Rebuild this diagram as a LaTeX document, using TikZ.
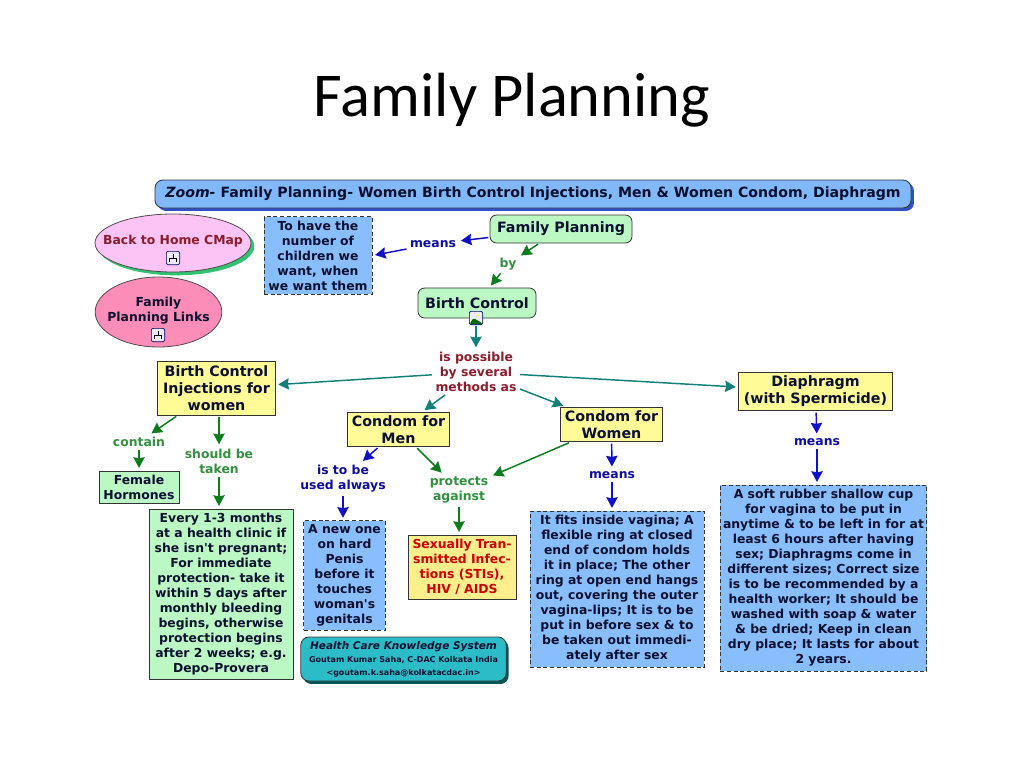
\documentclass[tikz,border=0pt]{standalone}
\usepackage{fontspec}
\setmainfont{DejaVu Sans}
\newfontfamily\titlefont{Carlito}
\usetikzlibrary{arrows.meta,shapes.geometric,shadows}
\definecolor{hdblue}{HTML}{80B8F8}
\definecolor{hdshadow}{HTML}{3050C8}
\definecolor{skyfill}{HTML}{88BEFC}
\definecolor{mintfill}{HTML}{BCF8C4}
\definecolor{lemonfill}{HTML}{FFFC98}
\definecolor{orangefill}{HTML}{FFEE8C}
\definecolor{pinkfill}{HTML}{FCC4F4}
\definecolor{rosefill}{HTML}{FC8CB8}
\definecolor{tealfill}{HTML}{2CBCC8}
\definecolor{tealline}{HTML}{108078}
\definecolor{greenline}{HTML}{0C7C1C}
\definecolor{blueline}{HTML}{1010C8}
\definecolor{darkred}{HTML}{8C1C2C}
\definecolor{navytext}{HTML}{0C1030}
\tikzset{
  txt/.style={font=\bfseries\fontsize{9.3}{11.25}\selectfont, align=center, text=navytext},
  bigtxt/.style={font=\bfseries\fontsize{10.7}{12.75}\selectfont},
  box/.style={txt, draw=black!80, line width=.6pt, inner sep=0pt},
  mint/.style={box, fill=mintfill},
  lemon/.style={box, bigtxt, fill=lemonfill},
  sky/.style={box, fill=skyfill, densely dashed},
  roundmint/.style={mint, bigtxt, rounded corners=5pt},
  oval/.style={ellipse, draw=black!70, line width=.6pt, inner sep=0pt},
  lbl/.style={txt, inner sep=1.5pt},
  iconbox/.style={draw=blue!40!black, fill=blue!8, rounded corners=1.5pt, line width=.5pt,
    minimum size=10pt, inner sep=0pt},
  treeicon/.style={iconbox, path picture={
    \draw[line width=.6pt, black] ([yshift=3pt]path picture bounding box.center) -- +(0,-3pt)
      +(-2.5pt,-3pt) -- +(2.5pt,-3pt) +(-2.5pt,-3pt) -- +(-2.5pt,-6pt) +(2.5pt,-3pt) -- +(2.5pt,-6pt);}},
  photoicon/.style={iconbox, path picture={
    \fill[green!40!black] (path picture bounding box.south west) -- +(3pt,5pt) -- +(10pt,1pt) -- +(10pt,0) -- cycle;
    \fill[yellow!70!white] ([xshift=1pt,yshift=2pt]path picture bounding box.center) circle (1.2pt);}},
  link/.style={line width=1.1pt, shorten >=2pt, shorten <=1pt,
    -{Stealth[length=8pt,width=8.5pt,inset=.8pt]}},
  teallink/.style={link, tealline},
  greenlink/.style={link, greenline},
  bluelink/.style={link, blueline}
}
\begin{document}
\begin{tikzpicture}[x=.75pt,y=-.75pt]
  \useasboundingbox (0,0) rectangle (1024,768);
  \node (title) at (512,100) {\titlefont\fontsize{46.8}{50}\selectfont Family Planning};

  \node[box, fill=hdblue, rounded corners=6pt, minimum width=567pt, minimum height=21pt,
    drop shadow={shadow xshift=2.2pt, shadow yshift=-2.2pt, fill=hdshadow, opacity=1}] (zoom) at (533,194)
    {\fontsize{10.6}{12}\selectfont\textit{Zoom-} Family Planning- Women Birth Control Injections, Men \& Women Condom, Diaphragm};

  % left side links
  \node[oval, fill=pinkfill, minimum width=117pt, minimum height=43.5pt,
    drop shadow={shadow xshift=2.5pt, shadow yshift=-2.5pt, fill=teal!60!green!80!white, opacity=1}] (home) at (173,243) {};
  \node[txt, text=darkred] (hometext) at (173,241) {Back to Home CMap};
  \node[treeicon] (homeicon) at (173,258) {};
  \node[oval, fill=rosefill, minimum width=95pt, minimum height=52.5pt] (links) at (158.5,312) {};
  \node[txt] (linkstext) at (158.5,310.5) {Family\\Planning Links};
  \node[treeicon] (linksicon) at (158,335) {};

  % concepts
  \node[sky, minimum width=81pt, minimum height=58pt] (tohave) at (318,255.5)
    {To have the\\number of\\children we\\want, when\\we want them};
  \node[roundmint, minimum width=106.5pt, minimum height=21pt] (fp) at (561,229) {Family Planning};
  \node[roundmint, minimum width=88.5pt, minimum height=22.5pt] (bc) at (477,303) {Birth Control};
  \node[photoicon] (bcicon) at (476,318) {};
  \node[lemon, minimum width=88pt, minimum height=40pt] (inj) at (216.5,388.5)
    {Birth Control\\Injections for\\women};
  \node[lemon, minimum width=115pt, minimum height=29pt] (diaph) at (815.5,391.5)
    {Diaphragm\\(with Spermicide)};
  \node[lemon, minimum width=76pt, minimum height=26pt] (cwomen) at (611.5,424.5) {Condom for\\Women};
  \node[lemon, minimum width=76pt, minimum height=26pt] (cmen) at (398.5,429.5) {Condom for\\Men};
  \node[mint, minimum width=60pt, minimum height=24pt] (hormones) at (139,487) {Female\\Hormones};
  \node[mint, minimum width=108pt, minimum height=127.5pt] (every) at (221,594)
    {Every 1-3 months\\at a health clinic if\\she isn\textquotesingle t pregnant;\\For immediate\\protection- take it\\within 5 days after\\monthly bleeding\\begins, otherwise\\protection begins\\after 2 weeks; e.g.\\Depo-Provera};
  \node[sky, minimum width=61pt, minimum height=82pt] (newone) at (344.5,575.5)
    {A new one\\on hard\\Penis\\before it\\touches\\woman\textquotesingle s\\genitals};
  \node[box, fill=orangefill, text=red!80!black, minimum width=81pt, minimum height=48pt] (sti) at (462,567)
    {Sexually Tran-\\smitted Infec-\\tions (STIs),\\HIV / AIDS};
  \node[sky, minimum width=130.5pt, minimum height=117pt] (fits) at (617,589)
    {It fits inside vagina; A\\flexible ring at closed\\end of condom holds\\it in place; The other\\ring at open end hangs\\out, covering the outer\\vagina-lips; It is to be\\put in before sex \& to\\be taken out immedi-\\ately after sex};
  \node[sky, minimum width=155pt, minimum height=139.5pt] (soft) at (823.5,578)
    {A soft rubber shallow cup\\for vagina to be put in\\anytime \& to be left in for at\\least 6 hours after having\\sex;  Diaphragms come in\\different sizes; Correct size\\is to be recommended by a\\health worker; It should be\\washed with soap \& water\\\& be dried; Keep in clean\\dry place; It lasts for about\\2 years.};
  \node[box, fill=tealfill, rounded corners=6pt, minimum width=154pt, minimum height=33pt,
    drop shadow={shadow xshift=1.8pt, shadow yshift=-2.2pt, fill=teal!70!black, opacity=1}] (hcks) at (403.5,659)
    {\fontsize{7.9}{10}\selectfont\textit{Health Care Knowledge System}\\[-1.5pt]
     \fontsize{6}{8}\selectfont Goutam Kumar Saha, C-DAC Kolkata India\\[-1.5pt]
     \fontsize{6}{8}\selectfont <goutam.k.saha@kolkatacdac.in>};

  % linking phrases
  \node[lbl, text=blueline!80!black] (means1) at (433,244) {means};
  \node[lbl, text=greenline!85!white] (by) at (508,264) {by};
  \node[lbl, text=darkred] (methods) at (476,372) {is possible\\by several\\methods as};
  \node[lbl, text=greenline!85!white] (contain) at (139,442) {contain};
  \node[lbl, text=greenline!85!white] (taken) at (219,461.5) {should be\\taken};
  \node[lbl, text=blueline!80!black] (always) at (343,478.5) {is to be\\used always};
  \node[lbl, text=greenline!85!white] (protects) at (459,490) {protects\\against};
  \node[lbl, text=blueline!80!black] (means2) at (612,475) {means};
  \node[lbl, text=blueline!80!black] (means3) at (817,442) {means};

  \draw[bluelink] (fp) -- (means1);
  \draw[bluelink] (means1) -- (tohave.east);
  \draw[greenlink] (fp) -- (by);
  \draw[greenlink] (by) -- (bc);
  \draw[teallink] (bcicon) -- (methods);
  \draw[teallink] (methods) -- (inj);
  \draw[teallink] (methods) -- (diaph);
  \draw[teallink] (methods) -- (cwomen);
  \draw[teallink] (methods) -- (cmen);
  \draw[greenlink] (inj) -- (contain);
  \draw[greenlink] (contain) -- (hormones);
  \draw[greenlink] (inj.south -| taken) -- (taken);
  \draw[greenlink] (taken) -- (every.north -| taken);
  \draw[bluelink] (cmen) -- (always);
  \draw[bluelink] (always) -- (newone.north -| always);
  \draw[greenlink] (cmen) -- (protects);
  \draw[greenlink] (cwomen) -- (protects);
  \draw[greenlink] (protects) -- (sti.north -| protects);
  \draw[bluelink] (cwomen) -- (means2);
  \draw[bluelink] (means2) -- (fits.north -| means2);
  \draw[bluelink] (diaph) -- (means3);
  \draw[bluelink] (means3) -- (soft.north -| means3);
\end{tikzpicture}
\end{document}
